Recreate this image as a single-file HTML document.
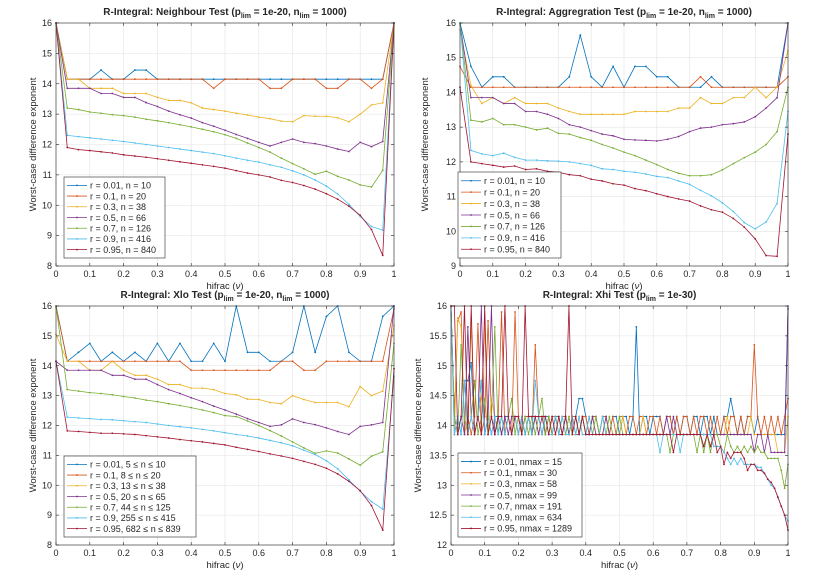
<!DOCTYPE html>
<html><head><meta charset="utf-8">
<style>
html,body{margin:0;padding:0;background:#fff;}
svg text{font-family:"Liberation Sans",sans-serif;fill:#262626;}
</style></head>
<body>
<svg id="fig" width="830" height="581" viewBox="0 0 830 581" xmlns="http://www.w3.org/2000/svg"></svg>
<script>
const colors=["#0072BD","#D95319","#EDB120","#7E2F8E","#77AC30","#4DBEEE","#A2142F"];
// ---- Panel 1: Neighbour test ----
const nbLabels=["r = 0.01, n = 10","r = 0.1, n = 20","r = 0.3, n = 38","r = 0.5, n = 66","r = 0.7, n = 126","r = 0.9, n = 416","r = 0.95, n = 840"];
const nb1=[16,14.15,14.15,14.15,14.45,14.15,14.15,14.45,14.45,14.15,14.15,14.15,14.15,14.15,14.15,14.15,14.15,14.15,14.15,14.15,14.15,14.15,14.15,14.15,14.15,14.15,14.15,14.15,14.15,14.15,16];
const nb2=[16,14.15,14.15,14.15,14.15,14.15,14.15,14.15,14.15,14.15,14.15,14.15,14.15,14.15,13.85,14.15,14.15,14.15,14.15,13.85,13.85,14.15,14.15,14.15,13.85,13.85,14.15,14.15,13.85,14.15,16];
const nb3=[16,14.15,14.15,13.85,13.85,13.85,13.68,13.68,13.68,13.55,13.45,13.45,13.37,13.2,13.15,13.1,13.03,12.97,12.9,12.85,12.77,12.75,12.95,12.93,12.93,12.88,12.75,13.0,13.3,13.37,16];
const nb4=[16,13.85,13.85,13.85,13.68,13.68,13.55,13.55,13.38,13.25,13.1,12.98,12.87,12.72,12.6,12.47,12.33,12.2,12.07,11.95,12.07,12.18,12.07,12.03,11.95,11.85,11.77,12.07,11.93,12.1,16];
const nb5=[16,13.2,13.15,13.07,13.03,12.98,12.95,12.9,12.83,12.78,12.72,12.65,12.58,12.5,12.42,12.32,12.2,12.05,11.9,11.75,11.55,11.37,11.2,11.02,11.12,10.95,10.83,10.67,10.6,11.15,16];
const nb6=[16,12.3,12.26,12.22,12.18,12.14,12.1,12.05,12.0,11.95,11.9,11.85,11.8,11.75,11.7,11.63,11.55,11.48,11.42,11.33,11.25,11.13,11.0,10.83,10.63,10.37,10.03,9.63,9.3,9.18,16];
const nb7=[16,11.9,11.83,11.8,11.76,11.72,11.66,11.62,11.58,11.53,11.48,11.43,11.38,11.33,11.28,11.22,11.14,11.06,11.0,10.93,10.82,10.75,10.65,10.53,10.38,10.2,9.97,9.67,9.2,8.35,16];
// ---- Panel 2: Aggregation test ----
const ag1=[16,14.75,14.15,14.45,14.45,14.15,14.15,14.15,14.15,14.15,14.45,15.65,14.45,14.15,14.75,14.15,14.75,14.75,14.45,14.45,14.15,14.15,14.15,14.45,14.15,14.15,14.15,14.15,14.15,14.15,16];
const ag2=[14.75,14.15,14.15,14.15,14.15,14.15,14.15,14.15,14.15,14.15,14.15,14.15,14.15,14.15,14.15,14.15,14.15,14.15,14.15,14.15,14.15,14.15,14.45,14.15,14.15,14.15,14.15,14.15,14.15,14.15,14.45];
const ag3=[15.8,14.2,13.68,13.85,13.68,13.85,13.68,13.68,13.68,13.55,13.45,13.37,13.37,13.37,13.37,13.37,13.45,13.45,13.45,13.45,13.55,13.55,13.85,13.68,13.68,13.85,13.85,14.15,13.85,14.15,15.2];
const ag4=[16,13.85,13.85,13.85,13.68,13.68,13.45,13.45,13.37,13.25,13.07,13.0,12.9,12.8,12.75,12.65,12.63,12.62,12.6,12.65,12.73,12.87,12.97,13.0,13.07,13.1,13.15,13.3,13.55,13.85,16];
const ag5=[16,13.2,13.15,13.25,13.07,13.07,13.0,12.92,12.97,12.82,12.8,12.7,12.62,12.5,12.4,12.28,12.18,12.05,11.92,11.78,11.67,11.6,11.6,11.63,11.77,11.95,12.12,12.28,12.5,12.87,14.15];
const ag6=[16,12.33,12.23,12.18,12.25,12.13,12.05,12.05,12.03,12.02,12.0,11.95,11.9,11.8,11.78,11.73,11.7,11.65,11.58,11.55,11.45,11.35,11.18,11.02,10.82,10.57,10.25,10.07,10.27,10.8,13.45];
const ag7=[14.15,12.0,11.95,11.9,11.85,11.88,11.78,11.8,11.73,11.7,11.63,11.6,11.5,11.45,11.37,11.33,11.23,11.17,11.08,11.0,10.93,10.87,10.73,10.62,10.55,10.37,10.12,9.78,9.3,9.28,12.8];
// ---- Panel 3: Xlo test ----
const xloLabels=["r = 0.01, 5 \u2264 n \u2264 10","r = 0.1, 8 \u2264 n \u2264 20","r = 0.3, 13 \u2264 n \u2264 38","r = 0.5, 20 \u2264 n \u2264 65","r = 0.7, 44 \u2264 n \u2264 125","r = 0.9, 255 \u2264 n \u2264 415","r = 0.95, 682 \u2264 n \u2264 839"];
const xl1=[16,14.15,14.45,14.75,14.15,14.45,14.15,14.45,14.15,14.75,14.15,14.75,14.15,14.15,14.75,14.15,16,14.45,14.45,14.15,14.15,14.45,16,14.45,15.65,16,14.45,14.15,14.15,15.65,16];
const xl2=[16,14.15,14.15,14.15,14.15,14.15,14.15,14.15,14.15,14.15,14.15,14.15,13.85,13.85,13.85,13.85,13.85,13.85,13.85,13.85,14.15,14.15,13.85,13.85,14.15,14.15,14.15,14.15,14.15,14.15,15.9];
const xl3=[15.05,14.15,14.15,13.85,13.85,14.15,13.85,13.68,13.68,13.55,13.37,13.37,13.25,13.25,13.2,13.07,13.03,12.88,12.87,12.77,12.73,13.0,12.87,12.77,12.77,12.77,12.63,13.3,13.0,13.15,15.35];
const xl4=[14.15,13.85,13.85,13.85,13.85,13.68,13.68,13.55,13.55,13.37,13.2,13.07,12.93,12.8,12.65,12.52,12.38,12.23,12.1,11.97,12.02,12.22,12.1,12.03,11.92,11.8,11.7,11.97,12.02,12.1,16];
const xl5=[16,13.2,13.15,13.1,13.07,13.03,12.97,12.92,12.85,12.8,12.73,12.67,12.6,12.52,12.43,12.33,12.3,12.15,12.0,11.83,11.65,11.45,11.25,11.07,11.15,11.08,10.88,10.67,10.97,11.12,14.75];
const xl6=[14.15,12.28,12.25,12.23,12.2,12.19,12.16,12.13,12.1,12.05,12.0,11.96,11.92,11.87,11.82,11.76,11.7,11.65,11.58,11.5,11.42,11.32,11.17,11.03,10.82,10.55,10.18,9.8,9.45,9.2,13.65];
const xl7=[14.15,11.82,11.8,11.77,11.74,11.74,11.72,11.7,11.66,11.62,11.58,11.53,11.49,11.45,11.4,11.35,11.27,11.2,11.13,11.05,10.98,10.9,10.8,10.7,10.57,10.38,10.13,9.82,9.32,8.5,13.9];
// ---- Panel 4: Xhi test (x = 0..1 step 0.01) ----
const xhiLabels=["r = 0.01, nmax = 15","r = 0.1, nmax = 30","r = 0.3, nmax = 58","r = 0.5, nmax = 99","r = 0.7, nmax = 191","r = 0.9, nmax = 634","r = 0.95, nmax = 1289"];
const xh1=[16,13.85,14.15,13.85,14.75,14.75,15.05,13.85,14.15,14.75,13.85,14.15,13.85,14.15,14.15,13.85,14.15,14.15,13.85,14.15,14.15,13.85,14.15,14.15,13.85,14.15,14.15,13.85,14.15,14.15,13.85,14.15,14.15,13.85,14.15,13.85,14.15,14.15,14.45,14.45,14.15,13.85,14.15,14.15,13.85,14.15,14.15,13.85,14.15,14.15,13.85,14.15,14.15,13.85,14.15,15.65,13.85,14.15,14.15,13.85,14.15,14.15,14.15,13.85,14.15,14.15,13.85,14.15,13.85,14.15,14.15,13.85,14.15,14.15,13.85,14.15,14.15,13.85,14.15,13.85,13.85,14.15,14.15,14.45,14.15,13.85,14.15,13.85,14.15,14.15,13.85,14.15,13.85,13.85,13.85,13.85,13.85,13.85,13.85,13.85,15.95];
const xh2=[16,14.15,15.75,15.9,13.85,14.15,13.85,14.15,15.7,13.85,14.15,15.75,14.15,13.85,14.15,15.9,13.85,14.15,13.85,15.9,14.15,13.85,14.15,14.15,13.85,15.35,14.15,13.85,14.15,13.85,14.15,14.15,13.85,14.15,14.15,13.85,14.15,14.15,13.85,14.15,14.15,13.85,14.15,14.15,13.85,14.15,14.15,13.85,14.15,13.85,14.15,14.15,13.85,14.15,14.15,13.85,14.15,14.15,13.85,14.15,14.15,13.85,14.15,13.85,14.15,14.15,13.85,14.15,13.85,14.15,14.15,13.85,14.15,13.85,14.15,14.15,13.85,14.15,13.85,14.15,13.85,14.15,13.85,14.15,14.15,13.85,14.15,13.85,14.15,14.15,15.35,14.15,13.85,14.15,13.85,14.15,13.85,14.15,13.85,14.15,14.45];
const xh3=[15.85,13.85,15.8,15.65,13.85,14.15,15.7,13.85,14.15,14.45,15.7,13.85,14.45,14.15,13.85,14.15,13.85,14.15,13.85,14.15,13.85,14.15,13.85,14.15,13.85,14.15,13.85,14.15,13.85,14.15,13.85,13.85,14.15,13.85,13.85,14.15,13.85,13.85,14.15,13.85,13.85,13.85,14.15,13.85,13.85,13.85,14.15,13.85,13.85,13.85,13.85,14.15,13.85,13.85,13.85,13.85,13.85,14.15,13.85,13.85,13.85,13.85,13.85,13.85,13.85,13.85,13.85,13.85,13.85,13.85,13.85,13.85,13.85,13.85,13.85,13.85,13.85,13.85,13.85,13.85,13.85,13.85,14.15,13.85,13.85,13.85,13.85,13.85,13.85,14.15,13.85,13.85,13.85,13.85,13.85,13.85,13.85,13.55,13.55,13.55,14.15];
const xh4=[16,14.15,13.85,14.15,13.85,15.65,14.15,13.85,14.15,16,13.85,14.15,16,13.85,14.15,13.85,14.15,13.85,14.15,14.15,13.85,14.15,13.85,14.15,13.85,14.15,13.85,14.15,13.85,14.15,13.85,14.15,13.85,13.85,14.15,13.85,14.15,13.85,13.85,14.15,13.85,13.85,14.15,13.85,13.85,13.85,14.15,13.85,13.85,13.85,13.85,13.85,13.85,13.85,13.85,13.85,13.85,13.85,13.85,13.85,13.85,13.85,13.85,13.85,14.15,13.85,14.15,13.85,13.85,13.85,13.85,13.85,13.85,13.85,13.85,13.85,13.85,13.85,13.85,13.85,13.85,13.85,13.85,13.85,13.85,13.85,13.85,13.85,13.85,13.85,13.55,13.85,13.85,13.55,13.85,13.55,13.55,13.55,13.55,13.55,16];
const xh5=[16,14.15,13.85,15.35,14.15,13.85,14.15,14.75,13.85,14.15,14.45,13.85,14.15,15.65,13.85,14.15,13.85,14.15,14.45,13.85,14.15,13.85,14.15,13.85,14.15,13.85,14.15,14.45,13.85,14.15,13.85,14.15,13.85,14.15,13.85,14.15,13.85,14.15,13.85,14.15,13.85,14.15,13.85,14.15,13.85,14.15,13.85,14.15,13.85,13.85,14.15,13.85,13.85,13.85,13.85,13.85,13.85,13.85,13.85,13.85,13.85,13.85,13.85,13.85,13.85,13.55,13.85,13.85,13.85,13.85,13.85,13.85,13.85,13.55,13.85,13.55,13.85,13.55,13.85,13.85,13.65,13.55,13.85,13.65,13.55,13.65,13.55,13.65,13.55,13.65,13.55,13.65,13.55,13.55,13.45,13.45,13.45,13.45,13.25,12.95,13.35];
const xh6=[16,13.85,14.15,13.85,14.75,13.85,14.15,13.85,14.15,14.75,13.85,14.15,13.85,14.15,13.85,14.15,13.85,14.15,13.85,14.15,13.85,14.15,13.85,14.15,13.85,14.75,14.15,13.85,14.15,13.85,13.85,14.15,13.85,14.15,13.85,13.85,14.15,13.85,14.15,13.85,13.85,14.15,13.85,13.85,13.85,14.15,13.85,13.85,13.85,13.85,13.85,13.85,13.85,13.85,13.85,13.85,13.85,13.85,13.85,13.85,13.85,13.85,13.55,13.85,13.85,13.85,13.85,13.85,13.55,13.85,13.85,13.85,13.85,13.85,13.85,13.85,13.85,13.85,13.65,13.65,13.65,13.55,13.45,13.35,13.45,13.35,13.45,13.35,13.35,13.35,13.35,13.3,13.3,13.2,13.1,13.0,12.95,12.8,12.65,12.5,12.4];
const xh7=[16,16,13.85,14.15,16,13.85,16,13.85,14.15,13.85,16,13.85,14.15,13.85,14.15,14.15,16,14.15,13.85,14.15,14.15,13.85,16,14.15,14.15,14.15,14.15,14.15,14.15,13.85,14.15,13.85,14.15,13.85,14.15,16,13.85,14.15,13.85,14.15,13.85,13.85,13.85,13.85,13.85,13.85,13.85,13.85,13.85,13.85,13.85,13.85,13.85,13.85,13.85,13.85,13.85,13.85,13.85,13.85,13.85,13.85,13.85,13.85,13.85,13.85,13.55,13.85,13.85,13.85,13.85,13.85,13.85,13.85,13.85,13.65,13.85,13.65,13.85,13.55,13.65,13.35,13.55,13.45,13.55,13.55,13.55,13.45,13.25,13.35,13.35,13.25,13.25,13.2,13.1,13.05,12.95,12.8,12.65,12.5,12.25];

const NS="http://www.w3.org/2000/svg";
const svg=document.getElementById('fig');
function mk(tag,attrs,parent){const e=document.createElementNS(NS,tag);for(const k in attrs)e.setAttribute(k,attrs[k]);(parent||svg).appendChild(e);return e;}

function panel(cfg){
  const g=mk('g',{});
  
  
  const {x0,x1,y0,y1,ymin,ymax}=cfg;
  const sx=v=>x0+(x1-x0)*v;
  const sy=v=>y1-(y1-y0)*(v-ymin)/(ymax-ymin);
  // grid
  const grid=mk('g',{},g);
  
  
  for(let i=0;i<=10;i++){const X=sx(i/10);mk('line',{x1:X,x2:X,y1:y0,y2:y1,stroke:'#e3e3e3','stroke-width':0.6},grid);}
  for(const t of cfg.yticks){const Y=sy(t);mk('line',{x1:x0,x2:x1,y1:Y,y2:Y,stroke:'#e3e3e3','stroke-width':0.6},grid);}
  // series
  cfg.series.forEach((s,i)=>{
    const n=s.length;
    const pts=s.map((v,j)=>[sx(j/(n-1)),sy(v)]);
    const sg=mk('g',{},g);
    
    
    const pl=mk('polyline',{points:pts.map(p=>p[0].toFixed(2)+','+p[1].toFixed(2)).join(' '),fill:'none',stroke:colors[i],'stroke-width':0.8},sg);
    
    
    pts.forEach(p=>{mk('circle',{cx:p[0],cy:p[1],r:0.9,fill:colors[i]},sg);});
  });
  // axes box
  const ax=mk('rect',{x:x0,y:y0,width:x1-x0,height:y1-y0,fill:'none',stroke:'#262626','stroke-width':0.6},g);
  
  
  for(let i=0;i<=10;i++){
    const X=sx(i/10);
    mk('line',{x1:X,x2:X,y1:y1,y2:y1-3,stroke:'#262626','stroke-width':0.6},g);
    mk('line',{x1:X,x2:X,y1:y0,y2:y0+3,stroke:'#262626','stroke-width':0.6},g);
    const t=mk('text',{x:X,y:y1+11,'font-size':9,'text-anchor':'middle'},g);
    t.textContent=(i===0?'0':i===10?'1':(i/10).toFixed(1));
    
    
  }
  for(const tv of cfg.yticks){
    const Y=sy(tv);
    mk('line',{x1:x0,x2:x0+3,y1:Y,y2:Y,stroke:'#262626','stroke-width':0.6},g);
    mk('line',{x1:x1,x2:x1-3,y1:Y,y2:Y,stroke:'#262626','stroke-width':0.6},g);
    const t=mk('text',{x:x0-4,y:Y+3,'font-size':9,'text-anchor':'end'},g);
    t.textContent=String(tv);
    
    
  }
  // title
  const tt=mk('text',{x:(x0+x1)/2,y:y0-8,'font-size':10,'font-weight':'bold','text-anchor':'middle'},g);
  tt.innerHTML=cfg.title;
  
  
  const xl=mk('text',{x:(x0+x1)/2,y:y1+23,'font-size':9.5,'text-anchor':'middle'},g);
  xl.innerHTML='hifrac (<tspan font-style="italic">\u03bd</tspan>)';
  
  
  const yl=mk('text',{x:0,y:0,'font-size':9.5,'text-anchor':'middle',transform:`translate(${cfg.ylx},${(y0+y1)/2}) rotate(-90)`},g);
  yl.textContent='Worst-case difference exponent';
  
  
  // legend
  const L=cfg.legend;
  const lg=mk('g',{},g);
  
  
  mk('rect',{x:L.x,y:L.y,width:L.w,height:L.h,fill:'#fff',stroke:'#262626','stroke-width':0.6},lg);
  const step=(L.h-6)/7;
  cfg.labels.forEach((lab,i)=>{
    const Y=L.y+3+step*(i+0.5);
    const e=mk('g',{},lg);
    
    
    mk('line',{x1:L.x+3,x2:L.x+23,y1:Y,y2:Y,stroke:colors[i],'stroke-width':0.8},e);
    mk('circle',{cx:L.x+13,cy:Y,r:0.9,fill:colors[i]},e);
    const t=mk('text',{x:L.x+26,y:Y+3.3,'font-size':9},e);
    t.textContent=lab;
  });
}
const tNb='R-Integral: Neighbour Test (p<tspan font-size="7" dy="3">lim</tspan><tspan dy="-3"> = 1e-20, n</tspan><tspan font-size="7" dy="3">lim</tspan><tspan dy="-3"> = 1000)</tspan>';
const tAg='R-Integral: Aggregration Test (p<tspan font-size="7" dy="3">lim</tspan><tspan dy="-3"> = 1e-20, n</tspan><tspan font-size="7" dy="3">lim</tspan><tspan dy="-3"> = 1000)</tspan>';
const tXl='R-Integral: Xlo Test (p<tspan font-size="7" dy="3">lim</tspan><tspan dy="-3"> = 1e-20, n</tspan><tspan font-size="7" dy="3">lim</tspan><tspan dy="-3"> = 1000)</tspan>';
const tXh='R-Integral: Xhi Test (p<tspan font-size="7" dy="3">lim</tspan><tspan dy="-3"> = 1e-30)</tspan>';
panel({name:'neighbour-test-chart',x0:56,x1:394,y0:23,y1:266,ymin:8,ymax:16,yticks:[8,9,10,11,12,13,14,15,16],title:tNb,ylx:36,
  series:[nb1,nb2,nb3,nb4,nb5,nb6,nb7],labels:nbLabels,legend:{x:64,y:177,w:101,h:81}});
panel({name:'aggregation-test-chart',x0:460,x1:788,y0:23,y1:266,ymin:9,ymax:16,yticks:[9,10,11,12,13,14,15,16],title:tAg,ylx:428,
  series:[ag1,ag2,ag3,ag4,ag5,ag6,ag7],labels:nbLabels,legend:{x:458,y:172,w:103,h:86}});
panel({name:'xlo-test-chart',x0:56,x1:394,y0:306,y1:545,ymin:8,ymax:16,yticks:[8,9,10,11,12,13,14,15,16],title:tXl,ylx:36,
  series:[xl1,xl2,xl3,xl4,xl5,xl6,xl7],labels:xloLabels,legend:{x:64,y:456,w:132,h:81}});
panel({name:'xhi-test-chart',x0:451,x1:788,y0:306,y1:545,ymin:12,ymax:16,yticks:[12,12.5,13,13.5,14,14.5,15,15.5,16],title:tXh,ylx:421,
  series:[xh1,xh2,xh3,xh4,xh5,xh6,xh7],labels:xhiLabels,legend:{x:458,y:453,w:124,h:84}});
</script>
</body></html>
